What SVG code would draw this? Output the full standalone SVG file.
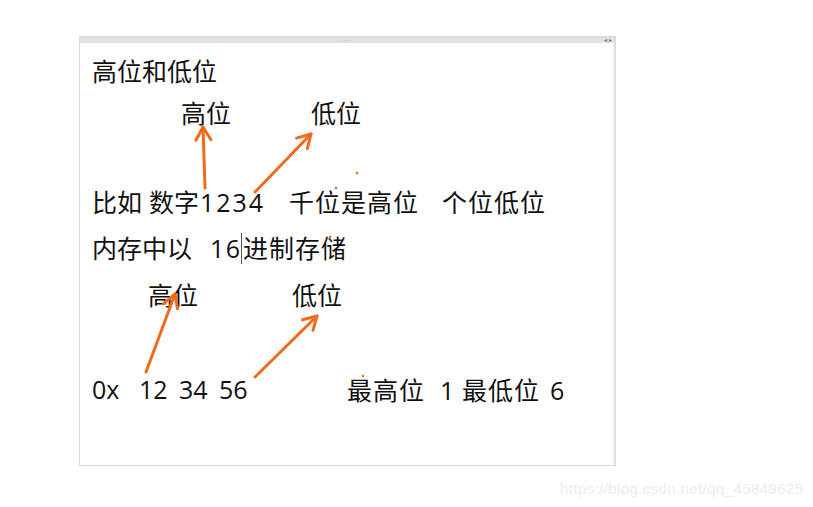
<svg xmlns="http://www.w3.org/2000/svg" width="813" height="507" viewBox="0 0 813 507">
<style>
.t{font-family:"Open Sans","Noto Sans CJK SC",sans-serif;font-size:25px;fill:#111111}
.w{letter-spacing:1px}
.a{stroke:#f26a1b;stroke-width:3;fill:none;stroke-linecap:round}
.d{fill:#f26a1b}
</style>
<defs>
<marker id="ah" markerUnits="userSpaceOnUse" markerWidth="30" markerHeight="30" refX="0" refY="0" viewBox="-15 -15 30 30" orient="auto" overflow="visible">
<path d="M-13,-7.5 L0,0 L-13,7.5" fill="none" stroke="#f26a1b" stroke-width="3" stroke-linecap="round" stroke-linejoin="round"/>
</marker>
</defs>
<rect width="813" height="507" fill="#ffffff"/>
<g id="frame">
<rect x="79.5" y="36.5" width="536" height="429" fill="#ffffff" stroke="#d9d9d9"/>
<rect x="80" y="37" width="535" height="6" fill="#e1e1e1"/>
<text x="347" y="42" font-family="Liberation Sans,sans-serif" font-size="6" fill="#777" text-anchor="middle">····</text>
<text x="608" y="42" font-family="Liberation Sans,sans-serif" font-size="6" fill="#777" text-anchor="middle">◂ ▸</text>
<line x1="614.5" y1="43" x2="614.5" y2="465" stroke="#e6e6e6" stroke-width="2"/>
</g>
<g id="title"><text class="t" x="92" y="81">高位和低位</text></g>
<g id="n-high1"><text class="t" x="181" y="123">高位</text></g>
<g id="n-low1"><text class="t" x="311" y="123">低位</text></g>
<g id="n-line1">
<text class="t" x="92" y="212">比如</text>
<text class="t" x="149" y="212">数字</text>
<text class="t" x="200" y="212" textLength="63">1234</text>
<text class="t w" x="289" y="212">千位是高位</text>
<text class="t w" x="442" y="212">个位低位</text>
</g>
<g id="n-line2">
<text class="t" x="92" y="258">内存中以</text>
<text class="t" x="210" y="258" textLength="30">16</text>
<text class="t w" x="243" y="258">进制存储</text>
<line x1="241.5" y1="233" x2="241.5" y2="264" stroke="#555" stroke-width="1"/>
</g>
<g id="n-high2"><text class="t" x="148" y="305">高位</text></g>
<g id="n-low2"><text class="t" x="292" y="305">低位</text></g>
<g id="n-line3">
<text class="t" x="92" y="399">0x</text>
<text class="t" x="139" y="399">12</text>
<text class="t" x="179" y="399">34</text>
<text class="t" x="219" y="399">56</text>
<text class="t w" x="347" y="400">最高位</text>
<text class="t" x="440" y="400">1</text>
<text class="t w" x="462" y="400">最低位</text>
<text class="t" x="550" y="400">6</text>
</g>
<g id="connectors">
<line class="a" x1="205" y1="188" x2="203" y2="127" marker-end="url(#ah)"/>
<line class="a" x1="255" y1="192" x2="311" y2="134" marker-end="url(#ah)"/>
<line class="a" x1="146" y1="372" x2="175" y2="294" marker-end="url(#ah)"/>
<line class="a" x1="255" y1="377" x2="317" y2="316" marker-end="url(#ah)"/>
</g>
<g id="specks">
<circle class="d" cx="342" cy="108" r="1.3"/>
<circle class="d" cx="357" cy="173" r="1.3"/>
<circle class="d" cx="336" cy="188" r="1.3"/>
<circle class="d" cx="385" cy="205" r="1.3"/>
<circle class="d" cx="330" cy="237" r="1.3"/>
<circle class="d" cx="363" cy="376" r="1.3"/>
</g>
<text x="560" y="494" font-family="Liberation Sans,sans-serif" font-size="15" fill="#ececec" textLength="243">https://blog.csdn.net/qq_45849625</text>
</svg>
